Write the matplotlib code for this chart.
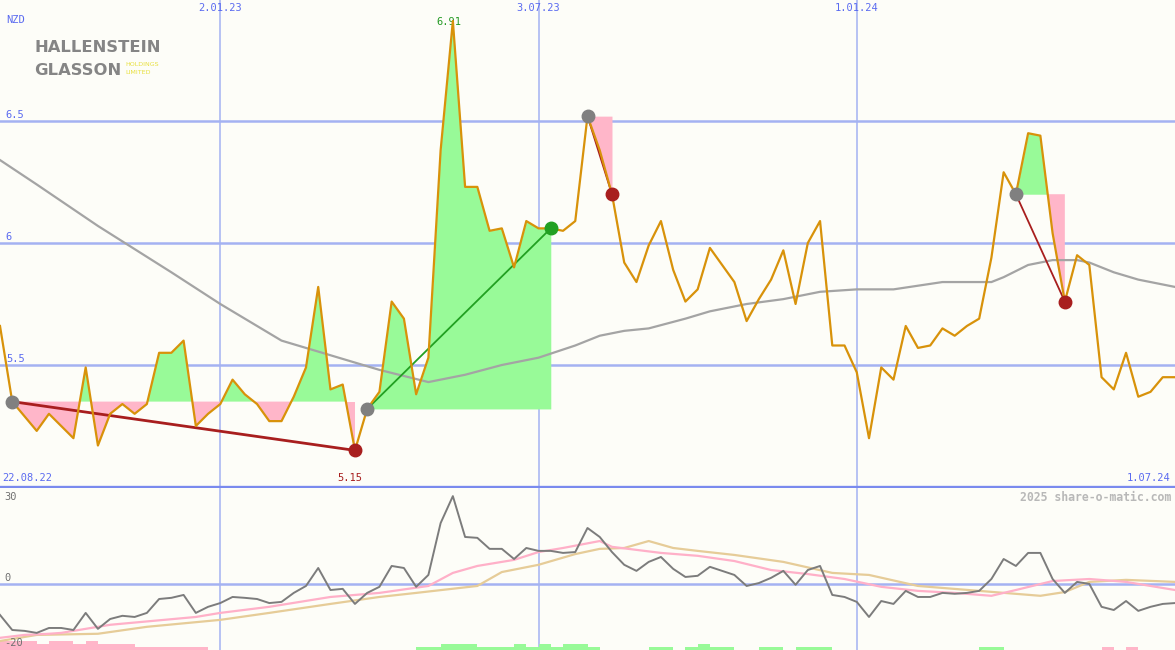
import matplotlib
matplotlib.use("Agg")
import matplotlib.pyplot as plt
import matplotlib.transforms as mtransforms
import numpy as np
import pandas as pd

# weekly closes, NZD
dates = pd.date_range("2022-08-29", periods=97, freq="7D")
price = [5.66, 5.35, 5.29, 5.23, 5.30, 5.25, 5.20, 5.49, 5.17, 5.30,
         5.34, 5.30, 5.34, 5.55, 5.55, 5.60, 5.25, 5.30, 5.34, 5.44,
         5.38, 5.34, 5.27, 5.27, 5.37, 5.49, 5.82, 5.40, 5.42, 5.15,
         5.32, 5.39, 5.76, 5.69, 5.38, 5.53, 6.38, 6.91, 6.23, 6.23,
         6.05, 6.06, 5.90, 6.09, 6.06, 6.06, 6.05, 6.09, 6.52, 6.38,
         6.20, 5.92, 5.84, 5.99, 6.09, 5.89, 5.76, 5.81, 5.98, 5.91,
         5.84, 5.68, 5.77, 5.85, 5.97, 5.75, 6.00, 6.09, 5.58, 5.58,
         5.47, 5.20, 5.49, 5.44, 5.66, 5.57, 5.58, 5.65, 5.62, 5.66,
         5.69, 5.94, 6.29, 6.20, 6.45, 6.44, 6.04, 5.76, 5.95, 5.91,
         5.45, 5.40, 5.55, 5.37, 5.39, 5.45, 5.45]

# long moving average (read at selected weeks)
ma_idx = [0, 3, 8, 14, 18, 23, 27, 31, 35, 38, 41, 44, 47, 49, 51, 53, 56,
          58, 61, 64, 67, 70, 73, 77, 81, 82, 84, 86, 88, 89, 91, 93, 96]
ma_val = [6.34, 6.24, 6.07, 5.88, 5.75, 5.60, 5.54, 5.48, 5.43, 5.46, 5.50,
          5.53, 5.58, 5.62, 5.64, 5.65, 5.69, 5.72, 5.75, 5.77, 5.80, 5.81,
          5.81, 5.84, 5.84, 5.86, 5.91, 5.93, 5.93, 5.92, 5.88, 5.85, 5.82]

# trend segments: start week, end week, direction
seg_start = [1, 30, 48, 83]
seg_end = [29, 45, 50, 87]
seg_up = [False, True, False, False]

# lower panel oscillator
osc = [-10.7, -15.9, -16.2, -16.9, -15.2, -15.2, -15.9, -10.0, -15.5, -12.1,
       -11.0, -11.4, -10.0, -5.2, -4.8, -3.8, -10.0, -7.9, -6.6, -4.5,
       -4.8, -5.2, -6.6, -6.2, -3.1, -0.7, 5.5, -2.1, -1.7, -6.9,
       -3.1, -1.0, 6.2, 5.5, -1.0, 3.1, 21.0, 30.3, 16.2, 15.9,
       12.1, 12.1, 8.6, 12.4, 11.4, 11.4, 10.7, 11.0, 19.3, 16.2,
       11.0, 6.6, 4.5, 7.6, 9.3, 5.2, 2.4, 2.8, 5.9, 4.5,
       3.1, -0.7, 0.3, 2.1, 4.5, -0.3, 4.8, 6.2, -3.8, -4.5,
       -6.2, -11.4, -5.9, -6.9, -2.4, -4.5, -4.5, -3.1, -3.4, -3.1,
       -2.4, 1.7, 8.6, 6.2, 10.7, 10.7, 1.7, -3.1, 0.7, 0.0,
       -7.9, -9.0, -5.9, -9.3, -7.9, -6.9, -6.6]

pink_idx = [0, 2, 4, 5, 9, 16, 18, 22, 27, 31, 35, 37, 39, 42, 44, 46, 49,
            50, 54, 57, 60, 63, 66, 69, 72, 75, 78, 81, 83, 86, 89, 92, 96]
pink_val = [-18.6, -17.6, -17.2, -16.9, -14.1, -11.4, -10.0, -7.9, -4.5, -3.1,
            -0.7, 3.8, 6.2, 8.3, 11.0, 12.4, 14.8, 12.8, 10.7, 9.7, 7.9, 4.8,
            3.4, 1.7, -1.0, -2.4, -3.1, -4.1, -2.1, 1.0, 1.7, 0.7, -2.1]

tan_idx = [0, 3, 8, 12, 18, 22, 27, 31, 34, 39, 41, 44, 47, 49, 51, 53, 55,
           57, 60, 64, 68, 71, 75, 80, 85, 87, 89, 92, 96]
tan_val = [-19.7, -17.6, -17.2, -14.8, -12.4, -10.0, -6.9, -4.5, -3.1, -0.7,
           4.1, 6.6, 10.3, 12.1, 12.4, 14.8, 12.4, 11.4, 10.0, 7.6, 3.8, 3.1,
           -0.7, -2.4, -4.1, -2.8, 0.7, 1.4, 0.7]

# weekly signal bars (+ green, - pink)
signal = [-3, -3, -3, -2, -3, -3, -2, -3, -2, -2,
          -2, -1, -1, -1, -1, -1, -1, 0, 0, 0,
          0, 0, 0, 0, 0, 0, 0, 0, 0, 0,
          0, 0, 0, 0, 1, 1, 2, 2, 2, 1,
          1, 1, 2, 1, 2, 1, 2, 2, 1, 0,
          0, 0, 0, 1, 1, 0, 1, 2, 1, 1,
          0, 0, 1, 1, 0, 1, 1, 1, 0, 0,
          0, 0, 0, 0, 0, 0, 0, 0, 0, 0,
          1, 1, 0, 0, 0, 0, 0, 0, 0, 0,
          -1, 0, -1, 0, 0, 0, 0]

grid_dates = ["2023-01-02", "2023-07-03", "2024-01-01"]
grid_labels = ["2.01.23", "3.07.23", "1.01.24"]
price_levels = [6.5, 6.0, 5.5]
price_labels = ["6.5", "6", "5.5"]

bg = "#fdfdf8"
gridc = "#a4b2f2"
labc = "#5a6af0"
mono = "DejaVu Sans Mono"

price = np.array(price)
fig = plt.figure(figsize=(11.75, 6.5), dpi=100, facecolor=bg)
ax = fig.add_axes([0, 163 / 650, 1, 487 / 650], facecolor=bg)
ax2 = fig.add_axes([0, 0, 1, 162 / 650], facecolor=bg)

for a in (ax, ax2):
    a.set_xlim(dates[0], dates[-1])
    for s in a.spines.values():
        s.set_visible(False)
    a.set_xticks([])
    a.set_yticks([])
    for d in grid_dates:
        a.axvline(pd.Timestamp(d), color=gridc, lw=1.1, zorder=1)

ax.set_ylim(5.0, 6.996)
ax2.set_ylim(-22.8, 33.1)

for lv in price_levels:
    ax.axhline(lv, color=gridc, lw=1.8, zorder=1)
ax.axhline(5.0, color="#7a8aee", lw=2.4, zorder=5, clip_on=False)
ax2.axhline(0, color=gridc, lw=1.8, zorder=1)

# trend fills, lines and markers
for s, e, up in zip(seg_start, seg_end, seg_up):
    xs = dates[s:e + 1]
    ys = price[s:e + 1]
    base = price[s]
    ax.fill_between(xs, base, ys, where=ys >= base, interpolate=True,
                    color="#98fa98", lw=0, zorder=2)
    ax.fill_between(xs, base, ys, where=ys <= base, interpolate=True,
                    color="#ffb6c9", lw=0, zorder=2)
    lc = "#22a022" if up else "#a81e1e"
    ax.plot([dates[s], dates[e]], [price[s], price[e]], color=lc,
            lw=2.0 if s == 1 else 1.3, zorder=4)
    ax.plot(dates[s], price[s], "o", ms=9, color="#808080", zorder=6)
    ax.plot(dates[e], price[e], "o", ms=9, color=lc, zorder=6)

ax.plot(dates[ma_idx], ma_val, color="#a4a4a4", lw=1.6, zorder=3)
ax.plot(dates, price, color="#d8920a", lw=1.6, zorder=5)

# labels main panel
yx = mtransforms.blended_transform_factory(ax.transAxes, ax.transData)
for lv, lb in zip(price_levels, price_labels):
    ax.text(0.005, lv + 0.005, lb, transform=yx, color=labc, fontsize=7.5,
            family=mono, va="bottom", ha="left")
ax.text(0.005, 0.958, "NZD", transform=ax.transAxes, color=labc, fontsize=7.5,
        family=mono, va="center", ha="left")
xt = mtransforms.blended_transform_factory(ax.transData, ax.transAxes)
for d, lb in zip(grid_dates, grid_labels):
    ax.text(pd.Timestamp(d), 0.983, lb, transform=xt, color=labc,
            fontsize=7.5, family=mono, va="center", ha="center")
ax.text(0.002, 0.019, "22.08.22", transform=ax.transAxes, color=labc,
        fontsize=7.5, family=mono, va="center", ha="left")
ax.text(0.996, 0.019, "1.07.24", transform=ax.transAxes, color=labc,
        fontsize=7.5, family=mono, va="center", ha="right")

i_hi = int(np.argmax(price))
i_lo = int(np.argmin(price))
ax.annotate(f"{price[i_hi]:.2f}", (dates[i_hi], price[i_hi]),
            xytext=(-3, -1), textcoords="offset points", color="#229922",
            fontsize=7.5, family=mono, ha="center", va="center")
ax.text(dates[i_lo] - pd.Timedelta(days=3), 0.019, f"{price[i_lo]:.2f}",
        transform=xt, color="#a81e1e", fontsize=7.5, family=mono,
        ha="center", va="center")

# logo
logo_font = dict(color="#858585", fontsize=11.8, fontweight="bold",
                 family="DejaVu Sans")
fig.text(34 / 1175, 1 - 52 / 650, "HALLENSTEIN", **logo_font)
fig.text(34 / 1175, 1 - 75 / 650, "GLASSON", **logo_font)
fig.text(125 / 1175, 1 - 66 / 650, "HOLDINGS", color="#e8e040",
         fontsize=4.6, family="DejaVu Sans")
fig.text(125 / 1175, 1 - 74 / 650, "LIMITED", color="#e8e040",
         fontsize=4.6, family="DejaVu Sans")

# lower panel
sig = np.array(signal)
bcol = ["#98fa98" if v > 0 else "#ffb6c9" for v in sig]
ax2.bar(dates, np.abs(sig) * 1.03, width=7, align="edge", bottom=-22.8,
        color=bcol, lw=0, zorder=2)
ax2.plot(dates[tan_idx], tan_val, color="#e6cc98", lw=1.6, zorder=3)
ax2.plot(dates[pink_idx], pink_val, color="#ffb0c8", lw=1.6, zorder=3)
ax2.plot(dates, osc, color="#7c7c7c", lw=1.4, zorder=4)

ly = mtransforms.blended_transform_factory(ax2.transAxes, ax2.transData)
for v, lb in [(30, "30"), (2, "0"), (-20.3, "-20")]:
    ax2.text(0.004, v, lb, transform=ly, color="#707070", fontsize=7.5,
             family=mono, va="center", ha="left")
ax2.text(0.997, 0.94, "2025 share-o-matic.com", transform=ax2.transAxes,
         color="#b8b8b8", fontsize=8.3, family=mono, fontweight="bold",
         ha="right", va="center")

fig.savefig("out.png", dpi=100, facecolor=bg)
